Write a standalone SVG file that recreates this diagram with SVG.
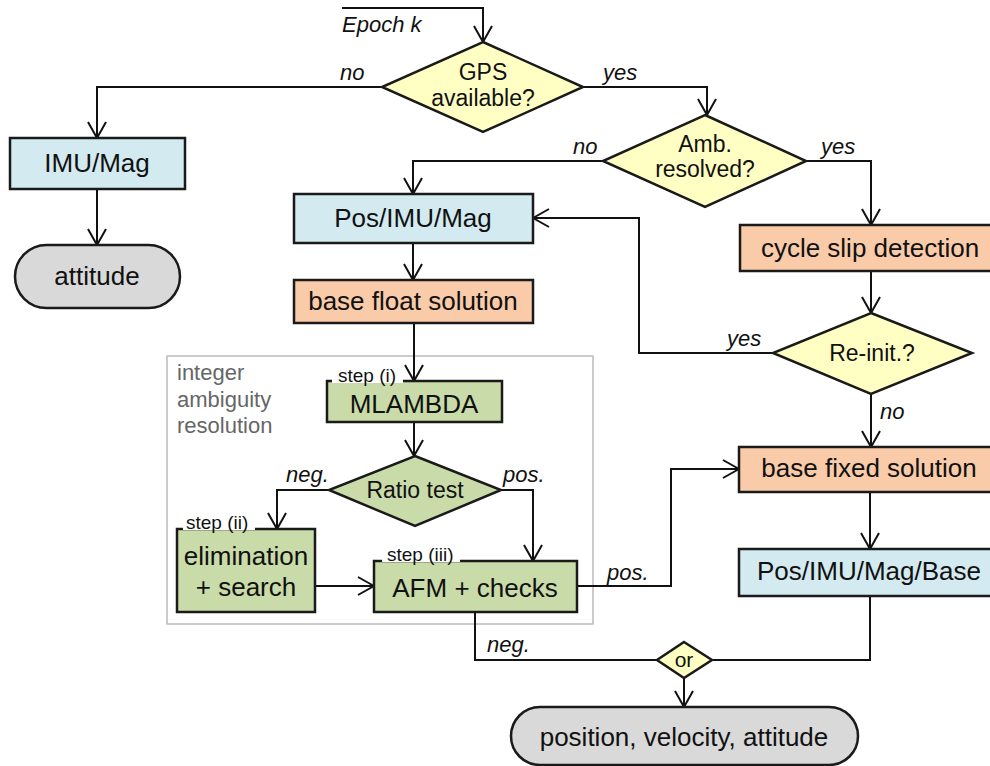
<svg xmlns="http://www.w3.org/2000/svg" width="990" height="766" viewBox="0 0 990 766">
<defs>
<style>
.box{stroke:#1a1a1a;stroke-width:2.5}
.blue{fill:#d3eaf0}
.orange{fill:#f9cba9}
.yellow{fill:#ffffc4}
.green{fill:#c9dba8}
.gray{fill:#d9d9d9}
.t{font-family:"Liberation Sans",Arial,sans-serif;font-size:26px;fill:#111;text-anchor:middle}
.d{font-family:"Liberation Sans",Arial,sans-serif;font-size:23px;fill:#111;text-anchor:middle}
.l{font-family:"Liberation Sans",Arial,sans-serif;font-size:22px;font-style:italic;fill:#111}
.s{font-family:"Liberation Sans",Arial,sans-serif;font-size:19px;fill:#111}
.g{font-family:"Liberation Sans",Arial,sans-serif;font-size:22px;fill:#666}
.c{fill:none;stroke:#111;stroke-width:2}
</style>
<marker id="a" viewBox="0 0 18 20" refX="17" refY="10" markerWidth="18" markerHeight="20" markerUnits="userSpaceOnUse" orient="auto">
<path d="M1,1 L17,10 L1,19" fill="none" stroke="#111" stroke-width="2"/>
</marker>
</defs>
<rect width="990" height="766" fill="#fff"/>

<g id="iar-frame">
<rect x="167" y="356" width="426" height="268" fill="none" stroke="#bbb" stroke-width="1.5"/>
<text class="g" x="177" y="380">integer</text>
<text class="g" x="177" y="407">ambiguity</text>
<text class="g" x="177" y="433">resolution</text>
</g>

<g id="connectors">
<path class="c" d="M342,8 H483 V42" marker-end="url(#a)"/>
<path class="c" d="M382,87 H97 V138" marker-end="url(#a)"/>
<path class="c" d="M97,189 V245" marker-end="url(#a)"/>
<path class="c" d="M582,87 H707 V115" marker-end="url(#a)"/>
<path class="c" d="M603,161 H413 V194" marker-end="url(#a)"/>
<path class="c" d="M806,161 H871 V225" marker-end="url(#a)"/>
<path class="c" d="M413,243 V280" marker-end="url(#a)"/>
<path class="c" d="M871,271 V313" marker-end="url(#a)"/>
<path class="c" d="M773,353 H639 V218 H533" marker-end="url(#a)"/>
<path class="c" d="M871,394 V447" marker-end="url(#a)"/>
<path class="c" d="M414,323 V381" marker-end="url(#a)"/>
<path class="c" d="M414,422 V456" marker-end="url(#a)"/>
<path class="c" d="M329,490 H277 V529" marker-end="url(#a)"/>
<path class="c" d="M501,490 H533 V561" marker-end="url(#a)"/>
<path class="c" d="M315,586 H374" marker-end="url(#a)"/>
<path class="c" d="M577,586 H671 V469 H739" marker-end="url(#a)"/>
<path class="c" d="M870,492 V549" marker-end="url(#a)"/>
<path class="c" d="M870,596 V660 H712"/>
<path class="c" d="M475,612 V660 H657"/>
<path class="c" d="M684,678 V707" marker-end="url(#a)"/>
<text class="l" x="342" y="32">Epoch k</text>
<text class="l" x="340" y="80">no</text>
<text class="l" x="603" y="80">yes</text>
<text class="l" x="573" y="154">no</text>
<text class="l" x="821" y="154">yes</text>
<text class="l" x="727" y="346">yes</text>
<text class="l" x="880" y="419">no</text>
<text class="l" x="286" y="482">neg.</text>
<text class="l" x="503" y="482">pos.</text>
<text class="l" x="607" y="580">pos.</text>
<text class="l" x="487" y="652">neg.</text>
</g>

<g id="gps">
<polygon class="box yellow" points="483,42 583,87 483,132 382,87" stroke-width="2"/>
<text class="d" x="483" y="80">GPS</text>
<text class="d" x="483" y="106">available?</text>
</g>
<g id="imumag">
<rect class="box blue" x="10" y="138" width="175" height="51"/>
<text class="t" x="97" y="172">IMU/Mag</text>
</g>
<g id="attitude">
<rect class="box gray" x="15" y="245" width="165" height="63" rx="31.5"/>
<text class="t" x="97" y="285">attitude</text>
</g>
<g id="amb">
<polygon class="box yellow" points="705,115 806,161 705,207 603,161" stroke-width="2"/>
<text class="d" x="705" y="152">Amb.</text>
<text class="d" x="705" y="177">resolved?</text>
</g>
<g id="posimumag">
<rect class="box blue" x="294" y="194" width="239" height="49"/>
<text class="t" x="413" y="227">Pos/IMU/Mag</text>
</g>
<g id="basefloat">
<rect class="box orange" x="294" y="280" width="239" height="43"/>
<text class="t" x="413" y="310">base float solution</text>
</g>
<g id="cycleslip">
<rect class="box orange" x="740" y="225" width="262" height="46"/>
<text class="t" x="870" y="257">cycle slip detection</text>
</g>
<g id="reinit">
<polygon class="box yellow" points="871,313 972,353 871,394 773,353" stroke-width="2"/>
<text class="d" x="872" y="361">Re-init.?</text>
</g>
<g id="mlambda">
<rect class="box green" x="327" y="381" width="175" height="41"/>
<rect x="332" y="368" width="71" height="15" fill="#fff"/>
<text class="s" x="338" y="382">step (i)</text>
<text class="t" x="414" y="413">MLAMBDA</text>
</g>
<g id="ratio">
<polygon class="box green" points="415,456 501,490 415,526 329,490" stroke-width="2"/>
<text class="d" x="415" y="498">Ratio test</text>
</g>
<g id="elim">
<rect class="box green" x="177" y="529" width="138" height="83"/>
<rect x="183" y="515" width="72" height="15" fill="#fff"/>
<text class="s" x="186" y="529">step (ii)</text>
<text class="t" x="246" y="565">elimination</text>
<text class="t" x="246" y="596">+ search</text>
</g>
<g id="afm">
<rect class="box green" x="374" y="561" width="203" height="51"/>
<rect x="382" y="547" width="78" height="15" fill="#fff"/>
<text class="s" x="387" y="561">step (iii)</text>
<text class="t" x="475" y="597">AFM + checks</text>
</g>
<g id="basefixed">
<rect class="box orange" x="739" y="447" width="263" height="45"/>
<text class="t" x="869" y="477">base fixed solution</text>
</g>
<g id="posimumagbase">
<rect class="box blue" x="739" y="549" width="263" height="47"/>
<text class="t" x="869" y="580">Pos/IMU/Mag/Base</text>
</g>
<g id="or">
<polygon class="box yellow" points="684,642 712,660 684,678 657,660" stroke-width="2"/>
<text class="d" x="684" y="667" style="font-size:21px">or</text>
</g>
<g id="output">
<rect class="box gray" x="511" y="707" width="347" height="58" rx="29"/>
<text class="t" x="684" y="746">position, velocity, attitude</text>
</g>
</svg>
